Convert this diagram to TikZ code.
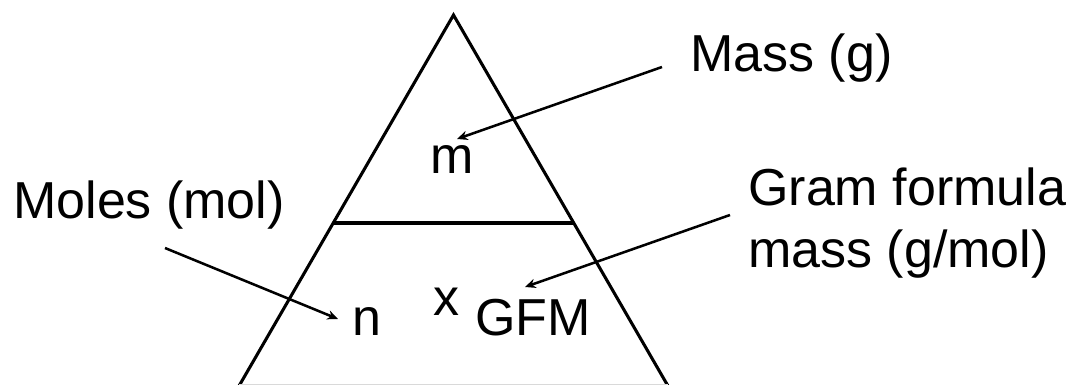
\documentclass[tikz,border=0pt]{standalone}
\usepackage{fontspec}
\setmainfont{Liberation Sans}
\usetikzlibrary{arrows.meta,positioning,calc}

\begin{document}
\begin{tikzpicture}[x=0.75pt, y=-0.75pt]
    \tikzstyle{lbl} = [anchor=base west, inner sep=0pt, font=\fontsize{39}{46.5}\selectfont, align=left]
    \tikzstyle{edge} = [line width=2.3pt, draw=black, line join=miter]
    \tikzstyle{arr} = [line width=1.9pt, -{Stealth[length=8pt, width=7pt]}, draw=black]

    \useasboundingbox (0,0) rectangle (1072,385);

    \coordinate (apex) at (453.5,15);
    \coordinate (footl) at (239,386);
    \coordinate (footr) at (668,386);
    \coordinate (divl) at ($(apex)!0.5606!(footl)$);
    \coordinate (divr) at ($(apex)!0.5606!(footr)$);

    \draw [edge] (footr) -- (apex) -- (footl);
    \draw [line width=1.5pt, draw=black!15] ([yshift=1]footl) -- ([yshift=1]footr);
    \draw [edge] (divl) -- (divr);

    \node [lbl] (m) at (430,173) {m};
    \node [lbl] (n) at (352,335) {n};
    \node [lbl] (times) at (433,315) {x};
    \node [lbl] (gfm) at (475,335) {GFM};

    \node [lbl] (mass) at (690,72) {Mass (g)};
    \node [lbl] (moles) at (13,218) {Moles (mol)};
    \node [lbl] (gram) at (748,267) {Gram formula\\mass (g/mol)};

    \coordinate (massfrom) at (662,67);
    \coordinate (massto) at (457,139);
    \coordinate (molesfrom) at (165,248);
    \coordinate (molesto) at (338,319);
    \coordinate (gramfrom) at (730,215);
    \coordinate (gramto) at (525,287);

    \draw [arr] (massfrom) -- (massto);
    \draw [arr] (molesfrom) -- (molesto);
    \draw [arr] (gramfrom) -- (gramto);
\end{tikzpicture}
\end{document}
